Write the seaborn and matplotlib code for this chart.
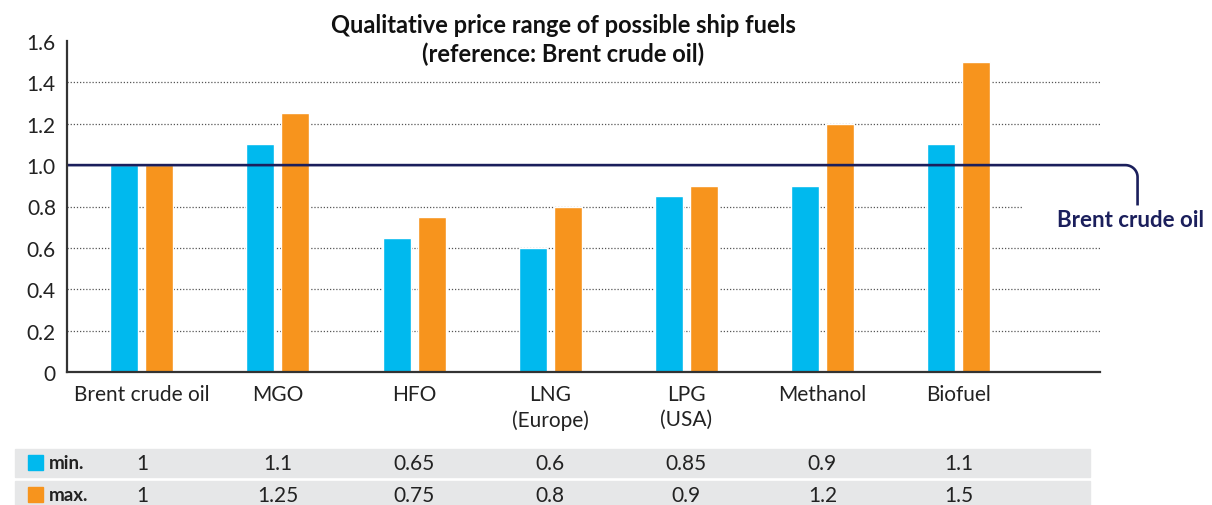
import numpy as np
import pandas as pd
import matplotlib
matplotlib.use("Agg")
import matplotlib.pyplot as plt
import matplotlib.transforms as mtransforms
from matplotlib.patches import Rectangle
import seaborn as sns

# Chart data
fuels = ["Brent crude oil", "MGO", "HFO", "LNG\n(Europe)", "LPG\n(USA)", "Methanol", "Biofuel"]
min_price = [1, 1.1, 0.65, 0.6, 0.85, 0.9, 1.1]
max_price = [1, 1.25, 0.75, 0.8, 0.9, 1.2, 1.5]
min_labels = ["1", "1.1", "0.65", "0.6", "0.85", "0.9", "1.1"]
max_labels = ["1", "1.25", "0.75", "0.8", "0.9", "1.2", "1.5"]
series = ["min.", "max."]
reference_value = 1.0
reference_label = "Brent crude oil"
y_ticks = [0, 0.2, 0.4, 0.6, 0.8, 1.0, 1.2, 1.4, 1.6]
y_tick_labels = ["0", "0.2", "0.4", "0.6", "0.8", "1.0", "1.2", "1.4", "1.6"]

BLUE = "#00b9ee"
ORANGE = "#f7941d"
NAVY = "#1b1f5c"
TEXT = "#222222"
ROW_BG = "#e6e7e8"

sns.set_style("white")
plt.rcParams["font.family"] = ["Lato", "DejaVu Sans"]

df = pd.DataFrame({
    "fuel": fuels * 2,
    "kind": [series[0]] * len(fuels) + [series[1]] * len(fuels),
    "value": min_price + max_price,
})

fig = plt.figure(figsize=(12.12, 5.06), dpi=100)
ax = fig.add_axes([67 / 1212, 1 - 373 / 506, (1100 - 67) / 1212, (373 - 42) / 506])

sns.barplot(data=df, x="fuel", y="value", hue="kind", hue_order=series,
            palette=[BLUE, ORANGE], width=0.515, gap=0.2, legend=False,
            saturation=1, ax=ax, zorder=3)

ax.set_xlim(-0.55, 7.04)
ax.set_ylim(0, 1.6)
ax.set_yticks(y_ticks)
ax.set_yticklabels(y_tick_labels)
ax.set_xlabel("")
ax.set_ylabel("")
ax.tick_params(axis="both", length=0, labelsize=15, colors=TEXT)
ax.tick_params(axis="x", pad=9)
ax.tick_params(axis="y", pad=8)
for lbl in ax.get_xticklabels():
    lbl.set_linespacing(1.3)

for s in ["top", "right"]:
    ax.spines[s].set_visible(False)
for s in ["left", "bottom"]:
    ax.spines[s].set_color("#333333")
    ax.spines[s].set_linewidth(1.6)
    ax.spines[s].set_zorder(5)

# dotted gridlines
for y in y_ticks:
    if y in (0, 1.0, 1.6):
        continue
    xmax = 6.47 if abs(y - 0.8) < 1e-9 else 7.04
    ax.hlines(y, -0.55, xmax, colors="#555555", linestyles=(0, (1, 1.5)),
              linewidth=0.9, zorder=1)

# reference line with rounded corner down to its label
xc, rx, ry = 7.316, 0.09, 0.058
theta = np.linspace(np.pi / 2, 0, 20)
arc_x = (xc - rx) + rx * np.cos(theta)
arc_y = (reference_value - ry) + ry * np.sin(theta)
lx = np.concatenate([[-0.55], arc_x, [xc]])
ly = np.concatenate([[reference_value], arc_y, [0.805]])
ax.plot(lx, ly, color=NAVY, linewidth=1.9, clip_on=False, zorder=4,
        solid_capstyle="butt")
ax.text(7.265, 0.737, reference_label, color=NAVY, fontsize=16,
        fontweight="bold", ha="center", va="center", clip_on=False)

# title
fig.text(563 / 1212, 1 - 40 / 506,
         "Qualitative price range of possible ship fuels\n(reference: Brent crude oil)",
         ha="center", va="center", fontsize=17, fontweight="bold",
         color="#111111", linespacing=1.25)

# data table below the chart
trans = mtransforms.blended_transform_factory(ax.transData, fig.transFigure)
rows = [(min_labels, BLUE, series[0], 450, 478), (max_labels, ORANGE, series[1], 482, 510)]
for labels, color, name, top, bot in rows:
    y0 = 1 - bot / 506
    h = (bot - top) / 506
    fig.patches.append(Rectangle((15 / 1212, y0), (1090 - 15) / 1212, h,
                                 transform=fig.transFigure, color=ROW_BG, zorder=-2))
    yc = 1 - (top + 14) / 506
    fig.patches.append(Rectangle((28 / 1212, 1 - (top + 21) / 506), 15 / 1212, 15 / 506,
                                 transform=fig.transFigure, color=color, zorder=-1))
    fig.text(49 / 1212, yc, name, fontsize=13.5, fontweight="bold",
             color=TEXT, ha="left", va="center")
    for i, lab in enumerate(labels):
        fig.text(i, yc, lab, transform=trans, fontsize=15, color=TEXT,
                 ha="center", va="center")

fig.savefig("out.png", dpi=100)
